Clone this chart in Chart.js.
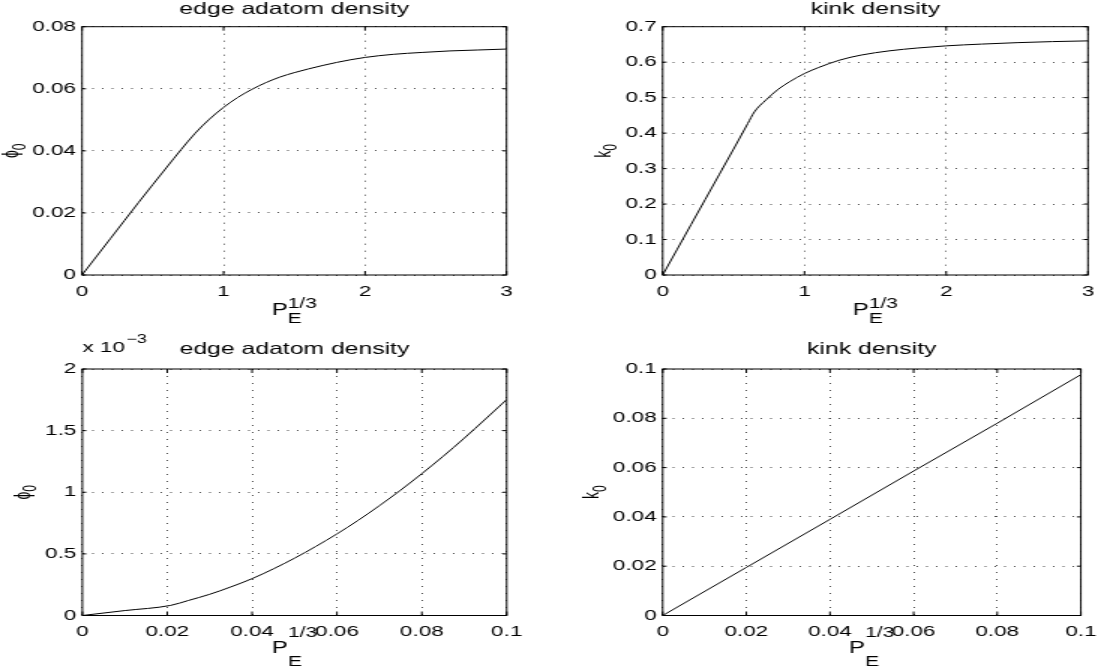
<!DOCTYPE html>
<html>
<head>
<meta charset="utf-8">
<script src="https://cdn.jsdelivr.net/npm/chart.js@4.4.0/dist/chart.umd.min.js"></script>
<style>
  html, body { margin: 0; padding: 0; background: #fff; }
  #fig { position: relative; width: 1107px; height: 668px; overflow: hidden; }
  #fig canvas { position: absolute; }
</style>
</head>
<body>
<div id="fig">
  <canvas id="c1" width="368" height="334" style="left:0;top:0;width:552px;height:334px"></canvas>
  <canvas id="c2" width="370" height="334" style="left:552px;top:0;width:555px;height:334px"></canvas>
  <canvas id="c3" width="368" height="334" style="left:0;top:334px;width:552px;height:334px"></canvas>
  <canvas id="c4" width="370" height="334" style="left:552px;top:334px;width:555px;height:334px"></canvas>
</div>
<script>
// the original figure is stretched sideways, so each canvas is drawn narrow and widened by css
const SX = 1.5;
const FONT = '"Liberation Sans", Arial, Helvetica, sans-serif';

// top left: edge adatom density, P_E^(1/3) 0..3
const edgeX   = [0, 0.2, 0.4, 0.6, 0.7, 0.8, 0.9, 1.0, 1.1, 1.2, 1.3, 1.4, 1.5, 1.6, 1.8, 2.0, 2.2, 2.4, 2.6, 2.8, 3.0];
const edgePhi = [0, 0.0117, 0.0234, 0.0348, 0.0404, 0.0457, 0.0502, 0.0540, 0.0572, 0.0598, 0.0620, 0.0638, 0.0652, 0.0664, 0.0685, 0.0701, 0.0711, 0.0717, 0.0722, 0.0725, 0.0728];

// top right: kink density, P_E^(1/3) 0..3
const kinkX = [0, 0.1, 0.2, 0.3, 0.4, 0.5, 0.6, 0.647, 0.73, 0.816, 0.9, 1.0, 1.1, 1.25, 1.4, 1.6, 1.8, 2.0, 2.25, 2.5, 2.75, 3.0];
const kinkK = [0, 0.071, 0.142, 0.213, 0.284, 0.355, 0.427, 0.460, 0.494, 0.524, 0.546, 0.568, 0.585, 0.606, 0.620, 0.632, 0.640, 0.646, 0.651, 0.655, 0.658, 0.660];

// bottom left: edge adatom density, small P_E^(1/3)
const lowEdgeX   = [0, 0.01, 0.0208, 0.025, 0.03, 0.035, 0.04, 0.045, 0.05, 0.055, 0.06, 0.065, 0.07, 0.075, 0.08, 0.085, 0.09, 0.095, 0.1];
const lowEdgePhi = [0, 0.040e-3, 0.082e-3, 0.122e-3, 0.172e-3, 0.232e-3, 0.299e-3, 0.378e-3, 0.465e-3, 0.560e-3, 0.662e-3,
                    0.772e-3, 0.891e-3, 1.017e-3, 1.151e-3, 1.291e-3, 1.439e-3, 1.594e-3, 1.752e-3];

// bottom right: kink density, small P_E^(1/3)
const lowKinkX = [0, 0.02, 0.04, 0.06, 0.08, 0.1];
const lowKinkK = [0, 0.0195, 0.039, 0.0586, 0.078, 0.0977];

// ticks
const bigXTicks   = [0, 1, 2, 3];
const smallXTicks = [0, 0.02, 0.04, 0.06, 0.08, 0.1];
const edgeYTicks  = [0, 0.02, 0.04, 0.06, 0.08];
const kinkYTicks  = [0, 0.1, 0.2, 0.3, 0.4, 0.5, 0.6, 0.7];
const lowEdgeYTicks = [0, 0.5e-3, 1e-3, 1.5e-3, 2e-3];
const lowKinkYTicks = [0, 0.02, 0.04, 0.06, 0.08, 0.1];

const fmt = v => String(+v.toFixed(6));

// box, inner ticks, titles and the labels with sub/superscripts
const matlabDeco = {
  id: 'matlabDeco',
  afterDraw(chart, args, o) {
    const ctx = chart.ctx;
    const ca = chart.chartArea;
    const xs = chart.scales.x, ys = chart.scales.y;
    const cx = (ca.left + ca.right) / 2;
    ctx.save();
    ctx.strokeStyle = '#000';
    ctx.lineWidth = 1;
    ctx.strokeRect(ca.left, ca.top, ca.right - ca.left, ca.bottom - ca.top);

    ctx.beginPath();
    xs.ticks.forEach(t => {
      const p = xs.getPixelForValue(t.value);
      ctx.moveTo(p, ca.bottom); ctx.lineTo(p, ca.bottom - 4);
      ctx.moveTo(p, ca.top); ctx.lineTo(p, ca.top + 4);
    });
    ys.ticks.forEach(t => {
      const p = ys.getPixelForValue(t.value);
      ctx.moveTo(ca.left, p); ctx.lineTo(ca.left + 4 / SX, p);
      ctx.moveTo(ca.right, p); ctx.lineTo(ca.right - 4 / SX, p);
    });
    ctx.stroke();

    ctx.fillStyle = '#000';
    ctx.textBaseline = 'alphabetic';

    // title
    ctx.font = '16.5px ' + FONT;
    ctx.textAlign = 'center';
    ctx.fillText(o.title, cx, o.titleY);

    // x label P_E^{1/3}
    ctx.textAlign = 'left';
    ctx.font = '16px ' + FONT;
    const wP = ctx.measureText('P').width;
    ctx.font = '14px ' + FONT;
    const wSup = ctx.measureText('1/3').width;
    const x0 = cx - (wP + wSup) / 2;
    ctx.font = '16px ' + FONT;
    ctx.fillText('P', x0, ca.bottom + o.pBase);
    ctx.font = '14px ' + FONT;
    ctx.fillText('1/3', x0 + wP, ca.bottom + o.supBase);
    ctx.fillText('E', x0 + wP, ca.bottom + o.subBase);

    // y label, rotated
    ctx.save();
    ctx.translate(ca.left - o.yLabOff / SX, (ca.top + ca.bottom) / 2);
    ctx.rotate(-Math.PI / 2);
    ctx.font = '14px ' + FONT;
    const wM = ctx.measureText(o.yMain).width;
    ctx.font = '12px ' + FONT;
    const wS = ctx.measureText('0').width;
    const y0 = -(wM + wS) / 2;
    ctx.textBaseline = 'middle';
    ctx.font = '14px ' + FONT;
    ctx.fillText(o.yMain, y0, -1);
    ctx.font = '12px ' + FONT;
    ctx.fillText('0', y0 + wM, 4);
    ctx.restore();

    // exponent above the y axis
    if (o.exp) {
      ctx.font = '15px ' + FONT;
      const wx = ctx.measureText('x 10').width;
      ctx.fillText('x 10', ca.left, 18);
      ctx.font = '12px ' + FONT;
      ctx.fillText('\u22123', ca.left + wx + 1, 9);
    }
    ctx.restore();
  }
};

function makePanel(id, xsArr, ysArr, xTicks, yTicks, o) {
  const pts = xsArr.map((x, i) => ({ x: x, y: ysArr[i] }));
  const gridCol = 'rgba(0,0,0,0.7)';
  return new Chart(document.getElementById(id), {
    type: 'line',
    data: { datasets: [{ data: pts, borderColor: '#000', borderWidth: 1, pointRadius: 0,
                         cubicInterpolationMode: 'monotone', fill: false }] },
    plugins: [matlabDeco],
    options: {
      responsive: false,
      animation: false,
      events: [],
      layout: { padding: { top: o.top, right: o.right, left: 0, bottom: 0 } },
      plugins: { legend: { display: false }, tooltip: { enabled: false }, matlabDeco: o },
      scales: {
        x: {
          type: 'linear',
          min: xTicks[0], max: xTicks[xTicks.length - 1],
          afterBuildTicks: s => { s.ticks = xTicks.map(v => ({ value: v })); },
          afterFit: s => { s.height = o.xAxisH; },
          grid: { color: gridCol, lineWidth: 1, drawTicks: false },
          border: { display: false, dash: [1, 6] },
          ticks: { color: '#000', padding: o.xPad, maxRotation: 0, autoSkip: false,
                   font: { family: FONT, size: 15 }, callback: v => fmt(v) }
        },
        y: {
          type: 'linear',
          min: yTicks[0], max: yTicks[yTicks.length - 1],
          afterBuildTicks: s => { s.ticks = yTicks.map(v => ({ value: v })); },
          afterFit: s => { s.width = o.yAxisW; },
          grid: { color: gridCol, lineWidth: 1, drawTicks: false },
          border: { display: false, dash: [1, 5.5] },
          ticks: { color: '#000', padding: 4, autoSkip: false,
                   font: { family: FONT, size: 15 }, callback: v => fmt(v * (o.yScale || 1)) }
        }
      }
    }
  });
}

makePanel('c1', edgeX, edgePhi, bigXTicks, edgeYTicks, {
  title: 'edge adatom density', titleY: 14, yMain: '\u03d5', yLabOff: 68,
  top: 26.7, right: 30.3, yAxisW: 54.7, xAxisH: 59, xPad: 8,
  pBase: 40, supBase: 33, subBase: 48
});
makePanel('c2', kinkX, kinkK, bigXTicks, kinkYTicks, {
  title: 'kink density', titleY: 14, yMain: 'k', yLabOff: 57,
  top: 26.7, right: 12.7, yAxisW: 73.8, xAxisH: 59, xPad: 8,
  pBase: 40, supBase: 33, subBase: 48
});
makePanel('c3', lowEdgeX, lowEdgePhi, smallXTicks, lowEdgeYTicks, {
  title: 'edge adatom density', titleY: 20, yMain: '\u03d5', yLabOff: 57, exp: true, yScale: 1000,
  top: 35, right: 30.2, yAxisW: 54.9, xAxisH: 52.5, xPad: 7,
  pBase: 37.7, supBase: 21.6, subBase: 50
});
makePanel('c4', lowKinkX, lowKinkK, smallXTicks, lowKinkYTicks, {
  title: 'kink density', titleY: 20, yMain: 'k', yLabOff: 68,
  top: 35, right: 12.7, yAxisW: 73.8, xAxisH: 52.5, xPad: 7,
  pBase: 37.7, supBase: 21.6, subBase: 50
});
</script>
</body>
</html>
